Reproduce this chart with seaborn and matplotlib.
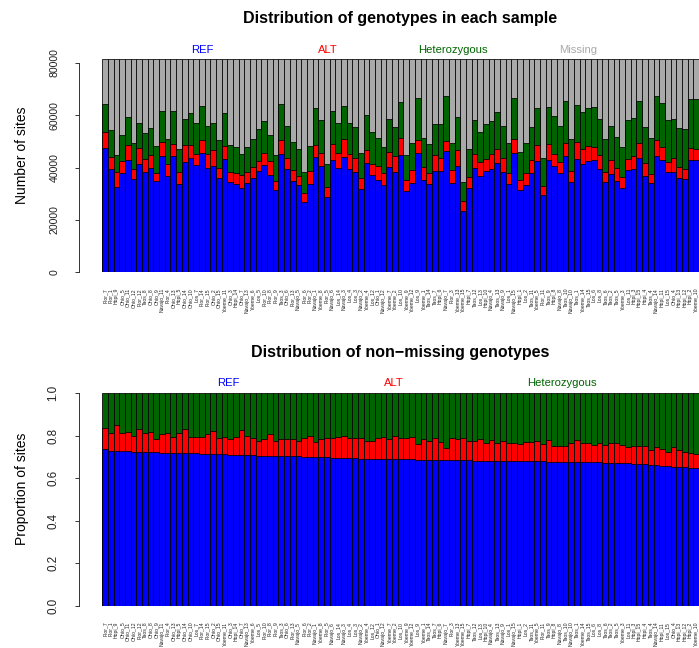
import numpy as np
import pandas as pd
import matplotlib
matplotlib.use("Agg")
import matplotlib.pyplot as plt
import seaborn as sns

# === DATI ===
samples = [
    "Flor_7", "Flor_1", "Hopi_9", "Ohio_5", "Ohio_11", "Ohio_12", "Flor_12", "Taos_8", "Ohio_8", "Ohio_9",
    "Navajo_11", "Flor_4", "Ohio_13", "Hopi_5", "Ohio_14", "Ohio_10", "Los_7", "Flor_14", "Flor_15", "Ohio_2",
    "Ohio_15", "Yoeme_11", "Ohio_3", "Hopi_14", "Ohio_7", "Navajo_13", "Yoeme_6", "Los_5", "Flor_10", "Flor_8",
    "Flor_9", "Taos_3", "Ohio_6", "Flor_13", "Navajo_5", "Flor_6", "Flor_2", "Navajo_1", "Yoeme_8", "Flor_5",
    "Navajo_6", "Los_14", "Navajo_3", "Los_4", "Los_3", "Navajo_2", "Yoeme_4", "Los_12", "Ohio_1", "Navajo_12",
    "Yoeme_7", "Yoeme_2", "Los_10", "Yoeme_9", "Yoeme_12", "Los_9", "Yoeme_1", "Taos_14", "Taos_7", "Hopi_6",
    "Navajo_7", "Flor_3", "Yoeme_13", "Yoeme_15", "Hopi_7", "Taos_12", "Los_13", "Hopi_10", "Navajo_4", "Taos_13",
    "Navajo_9", "Los_1", "Navajo_15", "Hopi_1", "Los_2", "Taos_11", "Yoeme_5", "Flor_11", "Taos_9", "Hopi_8",
    "Navajo_8", "Taos_10", "Navajo_10", "Taos_1", "Yoeme_14", "Taos_15", "Los_6", "Los_8", "Taos_6", "Taos_2",
    "Taos_5", "Yoeme_3", "Los_11", "Hopi_3", "Hopi_15", "Hopi_4", "Taos_4", "Navajo_14", "Hopi_11", "Los_15",
    "Ohio_4", "Hopi_13", "Hopi_12", "Hopi_2", "Yoeme_10",
]

# genotipi non mancanti per campione (REF + ALT + HET)
nonmissing = [
    64310, 54360, 44790, 52440, 59210, 49250, 57160, 53080, 55000, 48230,
    61630, 50910, 61630, 47080, 58570, 60990, 56910, 63540, 55760, 56910,
    50400, 60740, 48490, 47720, 45170, 47850, 51040, 54740, 57800, 52440,
    44790, 64310, 55760, 49640, 47210, 38410, 48230, 62780, 58190, 41210,
    61760, 57160, 63540, 57000, 55380, 45680, 60100, 53460, 51170, 47980,
    58440, 55380, 64950, 44790, 49250, 66480, 51170, 49000, 56530, 56530,
    67370, 49510, 59460, 34320, 46960, 58190, 53720, 56530, 57800, 61120,
    56020, 49510, 66730, 46060, 49250, 55630, 62650, 43510, 63030, 59840,
    56020, 65590, 50780, 63800, 61120, 62910, 63290, 58440, 50910, 56020,
    51810, 47980, 58190, 58820, 65590, 55380, 51420, 67370, 64820, 58190,
    58570, 55000, 54610, 66220, 66220,
]
total_sites = 81400

ref_prop = [
    0.738, 0.728, 0.727, 0.726, 0.726, 0.725, 0.724, 0.723, 0.722, 0.722,
    0.721, 0.720, 0.720, 0.719, 0.718, 0.717, 0.717, 0.716, 0.715, 0.714,
    0.713, 0.712, 0.711, 0.710, 0.710, 0.709, 0.708, 0.707, 0.706, 0.706,
    0.705, 0.705, 0.704, 0.704, 0.703, 0.702, 0.701, 0.700, 0.699, 0.698,
    0.697, 0.696, 0.695, 0.694, 0.694, 0.693, 0.693, 0.692, 0.692, 0.691,
    0.691, 0.690, 0.690, 0.689, 0.689, 0.688, 0.688, 0.687, 0.687, 0.686,
    0.686, 0.685, 0.685, 0.684, 0.684, 0.683, 0.683, 0.683, 0.682, 0.682,
    0.682, 0.681, 0.681, 0.680, 0.680, 0.680, 0.679, 0.679, 0.678, 0.678,
    0.678, 0.677, 0.677, 0.677, 0.676, 0.676, 0.675, 0.675, 0.674, 0.673,
    0.672, 0.671, 0.670, 0.669, 0.667, 0.665, 0.663, 0.661, 0.659, 0.657,
    0.655, 0.653, 0.651, 0.649, 0.647,
]

alt_prop = [
    0.097, 0.084, 0.124, 0.086, 0.093, 0.076, 0.106, 0.092, 0.094, 0.063,
    0.086, 0.092, 0.076, 0.093, 0.114, 0.079, 0.076, 0.077, 0.092, 0.110,
    0.078, 0.081, 0.075, 0.086, 0.116, 0.092, 0.083, 0.069, 0.079, 0.101,
    0.071, 0.078, 0.079, 0.079, 0.074, 0.089, 0.100, 0.072, 0.084, 0.093,
    0.094, 0.100, 0.106, 0.096, 0.094, 0.098, 0.084, 0.082, 0.098, 0.102,
    0.095, 0.111, 0.101, 0.101, 0.107, 0.075, 0.098, 0.087, 0.104, 0.083,
    0.058, 0.106, 0.101, 0.107, 0.090, 0.091, 0.100, 0.085, 0.097, 0.086,
    0.095, 0.087, 0.084, 0.081, 0.089, 0.089, 0.095, 0.082, 0.101, 0.076,
    0.076, 0.077, 0.088, 0.102, 0.092, 0.089, 0.083, 0.090, 0.081, 0.095,
    0.096, 0.087, 0.076, 0.083, 0.087, 0.089, 0.070, 0.088, 0.079, 0.068,
    0.091, 0.080, 0.071, 0.068, 0.067,
]

REF_COL, ALT_COL, HET_COL, MISS_COL = "#0000FF", "#FF0000", "#006400", "#A9A9A9"

# === TABELLA ===
df = pd.DataFrame({"sample": samples, "nonmissing": nonmissing,
                   "ref_prop": ref_prop, "alt_prop": alt_prop})
df["ref"] = df["nonmissing"] * df["ref_prop"]
df["alt"] = df["nonmissing"] * df["alt_prop"]
df["het"] = df["nonmissing"] - df["ref"] - df["alt"]
df["missing"] = total_sites - df["nonmissing"]

# altezze cumulative per le barre sovrapposte
df["c_miss"] = df["ref"] + df["alt"] + df["het"] + df["missing"]
df["c_het"] = df["ref"] + df["alt"] + df["het"]
df["c_alt"] = df["ref"] + df["alt"]
df["c_ref"] = df["ref"]
df["p_het"] = df["c_het"] / df["c_het"]
df["p_alt"] = df["c_alt"] / df["c_het"]
df["p_ref"] = df["c_ref"] / df["c_het"]

plt.rcParams["font.family"] = ["Liberation Sans", "DejaVu Sans"]

fig = plt.figure(figsize=(6.99, 6.48), dpi=100)
ax1 = fig.add_axes([102.3 / 699, 1 - 272 / 648, 596.7 / 699, 212.6 / 648])
ax2 = fig.add_axes([102.3 / 699, 1 - 605.7 / 648, 596.7 / 699, 212.4 / 648])


def stacked(ax, layers):
    # disegna dal più alto al più basso: ogni strato copre il precedente
    for col, color in layers:
        sns.barplot(data=df, x="sample", y=col, color=color, saturation=1,
                    width=1, edgecolor="black", linewidth=0.55,
                    errorbar=None, ax=ax)


stacked(ax1, [("c_miss", MISS_COL), ("c_het", HET_COL), ("c_alt", ALT_COL), ("c_ref", REF_COL)])
stacked(ax2, [("p_het", HET_COL), ("p_alt", ALT_COL), ("p_ref", REF_COL)])


def style(ax, ymax, ybound, yticks, yticklabels, ysize):
    ax.set_xlim(-0.5, len(samples) - 0.5)
    ax.set_ylim(0, ymax)
    for s in ["top", "right", "bottom"]:
        ax.spines[s].set_visible(False)
    ax.spines["left"].set_position(("outward", 16.8))
    ax.spines["left"].set_bounds(0, ybound)
    ax.spines["left"].set_linewidth(0.7)
    ax.spines["left"].set_color("#333333")
    ax.set_yticks(yticks)
    ax.set_yticklabels(yticklabels, rotation=90, va="center", fontsize=ysize, color="#222222")
    ax.tick_params(axis="y", length=2.9, width=0.7, pad=11, color="#333333")
    ax.set_xticks(range(len(samples)))
    ax.set_xticklabels(samples, rotation=90, fontsize=3.7, va="top", ha="center", color="#222222")
    ax.tick_params(axis="x", length=0, pad=11.5)
    ax.set_xlabel("")
    ax.set_ylabel("")
    ax.patch.set_alpha(0)


style(ax1, total_sites, 80000, [0, 20000, 40000, 60000, 80000],
      ["0", "20000", "40000", "60000", "80000"], 7.6)
style(ax2, 1.0, 1.0, [0, 0.2, 0.4, 0.6, 0.8, 1.0],
      ["0.0", "0.2", "0.4", "0.6", "0.8", "1.0"], 8.4)

# === TITOLI E LEGENDE ===
fig.text(400 / 699, 1 - 18 / 648, "Distribution of genotypes in each sample",
         ha="center", va="center", fontsize=11.5, fontweight="bold")
fig.text(400 / 699, 1 - 352.7 / 648, "Distribution of non\u2212missing genotypes",
         ha="center", va="center", fontsize=11.5, fontweight="bold")

fig.text(22 / 699, 1 - 155 / 648, "Number of sites", rotation=90,
         ha="center", va="center", fontsize=10)
fig.text(22 / 699, 1 - 488.7 / 648, "Proportion of sites", rotation=90,
         ha="center", va="center", fontsize=10)

for label, xpos, color in [("REF", 202, REF_COL), ("ALT", 328, ALT_COL),
                           ("Heterozygous", 453, HET_COL), ("Missing", 578, MISS_COL)]:
    fig.text(xpos / 699, 1 - 50 / 648, label, color=color, ha="center", va="center", fontsize=8.1)

for label, xpos, color in [("REF", 228, REF_COL), ("ALT", 394, ALT_COL),
                           ("Heterozygous", 562, HET_COL)]:
    fig.text(xpos / 699, 1 - 383 / 648, label, color=color, ha="center", va="center", fontsize=8.1)

fig.savefig("out.png", dpi=100, facecolor="white")
plt.close(fig)
